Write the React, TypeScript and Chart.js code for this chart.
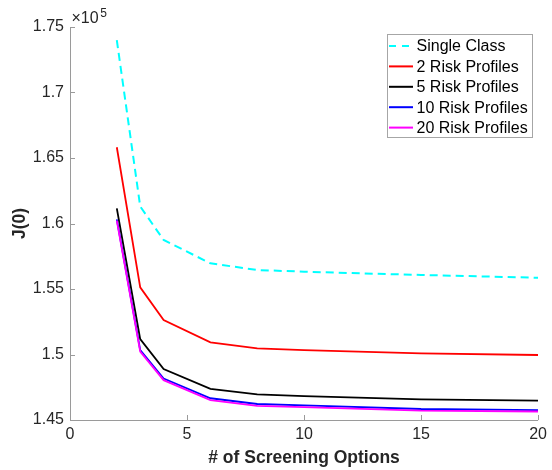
import React, { useEffect, useRef } from "react";
import { Chart, registerables } from "chart.js";

Chart.register(...registerables);

const xValues = [2, 3, 4, 6, 8, 10, 15, 20];
const singleClass = [174000, 161300, 158740, 156960, 156450, 156320, 156070, 155860];
const risk2 = [165820, 155130, 152630, 150930, 150470, 150340, 150090, 149960];
const risk5 = [161160, 151180, 148890, 147370, 146960, 146830, 146580, 146480];
const risk10 = [160320, 150340, 148160, 146660, 146220, 146120, 145840, 145760];
const risk20 = [160220, 150230, 148040, 146520, 146080, 145990, 145720, 145650];

const seriesLabels = ["Single Class", "2 Risk Profiles", "5 Risk Profiles", "10 Risk Profiles", "20 Risk Profiles"];
const seriesColors = ["#00FFFF", "#FF0000", "#000000", "#0000FF", "#FF00FF"];
const xTicks = [0, 5, 10, 15, 20];
const yTicks = [145000, 150000, 155000, 160000, 165000, 170000, 175000];

const FONT = "'Liberation Sans', Arial, Helvetica, sans-serif";
const AXIS_COLOR = "#9a9a9a";
const TEXT_COLOR = "#262626";

const overlayPlugin = {
  id: "overlay",
  afterDraw(chart: any) {
    const ctx = chart.ctx as CanvasRenderingContext2D;
    const { left, right, top, bottom } = chart.chartArea;
    const xs = chart.scales.x;
    const ys = chart.scales.y;
    ctx.save();
    // axis lines
    ctx.strokeStyle = AXIS_COLOR;
    ctx.lineWidth = 1;
    ctx.beginPath();
    ctx.moveTo(left + 0.5, top);
    ctx.lineTo(left + 0.5, bottom + 0.5);
    ctx.lineTo(right, bottom + 0.5);
    ctx.stroke();
    // inward ticks
    ctx.beginPath();
    for (const t of xTicks) {
      const px = Math.round(xs.getPixelForValue(t)) + 0.5;
      ctx.moveTo(px, bottom);
      ctx.lineTo(px, bottom - 5);
    }
    for (const t of yTicks) {
      const py = Math.round(ys.getPixelForValue(t)) + 0.5;
      ctx.moveTo(left, py);
      ctx.lineTo(left + 5, py);
    }
    ctx.stroke();

    // exponent label
    ctx.fillStyle = TEXT_COLOR;
    ctx.textBaseline = "alphabetic";
    ctx.textAlign = "left";
    ctx.font = `16px ${FONT}`;
    ctx.fillText("\u00d710", left + 1.5, top - 4);
    const w = ctx.measureText("\u00d710").width;
    ctx.font = `12px ${FONT}`;
    ctx.fillText("5", left + 1.5 + w + 1.5, top - 10.5);

    // legend
    const lx = 387, ly = 34, lw = 145, lh = 103;
    ctx.fillStyle = "#ffffff";
    ctx.fillRect(lx, ly, lw, lh);
    ctx.strokeStyle = "#a6a6a6";
    ctx.lineWidth = 1;
    ctx.strokeRect(lx + 0.5, ly + 0.5, lw, lh);
    ctx.font = `16px ${FONT}`;
    ctx.textBaseline = "middle";
    seriesLabels.forEach((label, i) => {
      const cy = 46 + i * 20.4;
      ctx.strokeStyle = seriesColors[i];
      ctx.lineWidth = 2;
      ctx.setLineDash(i === 0 ? [7, 6] : []);
      ctx.beginPath();
      ctx.moveTo(389, cy);
      ctx.lineTo(413, cy);
      ctx.stroke();
      ctx.setLineDash([]);
      ctx.fillStyle = "#000000";
      ctx.fillText(label, 416.5, cy + 1);
    });
    ctx.restore();
  },
};

export default function App() {
  const canvasRef = useRef<HTMLCanvasElement | null>(null);

  useEffect(() => {
    const canvas = canvasRef.current;
    if (!canvas) return;
    const allSeries = [singleClass, risk2, risk5, risk10, risk20];
    const datasets = allSeries.map((vals, i) => ({
      label: seriesLabels[i],
      data: xValues.map((x, j) => ({ x, y: vals[j] })),
      borderColor: seriesColors[i],
      backgroundColor: seriesColors[i],
      borderWidth: i === 0 ? 2 : 1.8,
      borderDash: i === 0 ? [8, 5] : [],
      pointRadius: 0,
      tension: 0,
      fill: false,
      order: 5 - i,
    }));
    const chart = new Chart(canvas, {
      type: "line",
      data: { datasets },
      options: {
        animation: false,
        responsive: false,
        devicePixelRatio: 1,
        layout: { padding: { top: 27, right: 13, left: 0, bottom: 0 } },
        plugins: { legend: { display: false }, tooltip: { enabled: false } },
        scales: {
          x: {
            type: "linear",
            min: 0,
            max: 20,
            afterBuildTicks: (scale: any) => {
              scale.ticks = xTicks.map((v) => ({ value: v }));
            },
            afterFit: (scale: any) => {
              scale.height = 50;
            },
            grid: { display: false, drawTicks: false },
            border: { display: false },
            ticks: {
              color: TEXT_COLOR,
              font: { family: FONT, size: 16 },
              padding: 5,
              maxRotation: 0,
            },
            title: {
              display: true,
              text: "# of Screening Options",
              color: TEXT_COLOR,
              font: { family: FONT, size: 17.5, weight: "bold" },
              padding: { top: 0, bottom: 1 },
            },
          },
          y: {
            type: "linear",
            min: 145000,
            max: 175000,
            afterBuildTicks: (scale: any) => {
              scale.ticks = yTicks.map((v) => ({ value: v }));
            },
            afterFit: (scale: any) => {
              scale.width = 70;
            },
            grid: { display: false, drawTicks: false },
            border: { display: false },
            ticks: {
              color: TEXT_COLOR,
              font: { family: FONT, size: 16 },
              padding: 6,
              callback: (v: any) => String(+(Number(v) / 1e5).toFixed(2)),
            },
            title: {
              display: true,
              text: "J(0)",
              color: TEXT_COLOR,
              font: { family: FONT, size: 17.5, weight: "bold" },
              padding: { top: 10, bottom: 0 },
            },
          },
        },
      },
      plugins: [overlayPlugin],
    });
    return () => chart.destroy();
  }, []);

  return (
    <div style={{ position: "fixed", left: 0, top: 0, width: 552, height: 470, background: "#ffffff" }}>
      <canvas ref={canvasRef} width={552} height={470} style={{ display: "block" }} />
    </div>
  );
}
